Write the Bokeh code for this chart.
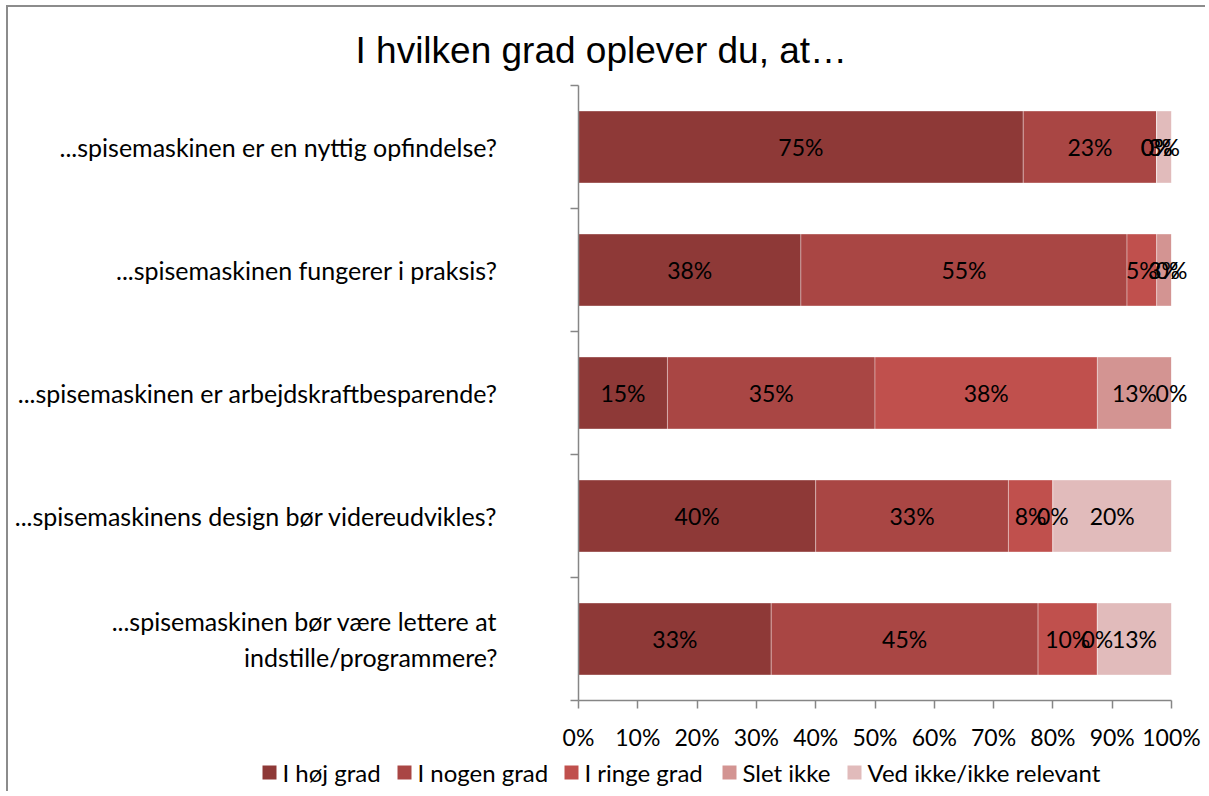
from bokeh.plotting import figure
from bokeh.models import ColumnDataSource, FixedTicker, PrintfTickFormatter, Range1d
from bokeh.core.properties import value
from bokeh.embed import file_html
from bokeh.resources import INLINE

questions = [
    "...spisemaskinen er en nyttig opfindelse?",
    "...spisemaskinen fungerer i praksis?",
    "...spisemaskinen er arbejdskraftbesparende?",
    "...spisemaskinens design bør videreudvikles?",
    "...spisemaskinen bør være lettere at\nindstille/programmere?",
]
series_names = ["I høj grad", "I nogen grad", "I ringe grad", "Slet ikke", "Ved ikke/ikke relevant"]
hoej_grad = [75.0, 37.5, 15.0, 40.0, 32.5]
nogen_grad = [22.5, 55.0, 35.0, 32.5, 45.0]
ringe_grad = [0.0, 5.0, 37.5, 7.5, 10.0]
slet_ikke = [0.0, 2.5, 12.5, 0.0, 0.0]
ved_ikke = [2.5, 0.0, 0.0, 20.0, 12.5]
series_values = [hoej_grad, nogen_grad, ringe_grad, slet_ikke, ved_ikke]
colors = ["#8E3937", "#A94644", "#C0504D", "#D39492", "#E1BBBB"]
x_ticks = [0, 10, 20, 30, 40, 50, 60, 70, 80, 90, 100]

FONT = "Lato"

# layout (pixels)
W, H = 1199, 786
BL, BR, BT, BB = 570, 36, 78, 93
FRAME_W = W - BL - BR
FRAME_H = H - BT - BB
X0, X1 = 0, 100
Y_TOP, Y_BOT = 0, 5

p = figure(
    width=W, height=H,
    x_range=Range1d(X0, X1), y_range=Range1d(Y_BOT, Y_TOP),
    output_backend="svg", toolbar_location=None,
    min_border_left=BL, min_border_right=BR, min_border_top=BT, min_border_bottom=BB,
    title="I hvilken grad oplever du, at\u2026",
)
p.styles = {"margin-left": "6px", "margin-top": "5px",
            "border-left": "2px solid #8c8c8c", "border-top": "2px solid #8c8c8c"}
p.outline_line_color = None
p.xgrid.visible = False
p.ygrid.visible = False

p.title.text_font = "Liberation Sans"
p.title.text_font_size = "37px"
p.title.text_font_style = "normal"
p.title.text_color = "#000000"
p.title.align = "left"
p.title.offset = -223
p.title.standoff = 30

ypos = [i + 0.5 for i in range(len(questions))]
left = [0.0] * len(questions)
for name, vals, col in zip(series_names, series_values, colors):
    right = [l + v for l, v in zip(left, vals)]
    src = ColumnDataSource(dict(
        y=ypos, left=left, right=right,
        xc=[(l + r) / 2 for l, r in zip(left, right)],
        lab=["%d%%" % int(v + 0.5) for v in vals],
    ))
    p.hbar(y="y", left="left", right="right", height=0.585, source=src,
           fill_color=col, line_color="white", line_alpha=0.35, line_width=1)
    p.text(x="xc", y="y", text="lab", source=src, text_align="center", text_baseline="middle",
           text_font=value(FONT), text_font_size="23px", text_color="#000000", level="overlay")
    left = right

# x axis
p.xaxis.ticker = FixedTicker(ticks=x_ticks)
p.xaxis.formatter = PrintfTickFormatter(format="%d%%")
p.xaxis.axis_line_color = "#868686"
p.xaxis.axis_line_width = 1.5
p.xaxis.major_tick_line_color = "#868686"
p.xaxis.major_tick_line_width = 1.5
p.xaxis.major_tick_in = 0
p.xaxis.major_tick_out = 8
p.xaxis.minor_tick_line_color = None
p.xaxis.major_label_text_font = FONT
p.xaxis.major_label_text_font_size = "23px"
p.xaxis.major_label_text_color = "#000000"
p.xaxis.major_label_standoff = 14

# y axis
p.yaxis.ticker = FixedTicker(ticks=ypos, minor_ticks=[0, 1, 2, 3, 4, 5])
p.yaxis.major_label_overrides = {y: q for y, q in zip(ypos, questions)}
p.yaxis.axis_line_color = "#868686"
p.yaxis.axis_line_width = 1.5
p.yaxis.major_tick_line_color = None
p.yaxis.major_tick_in = 0
p.yaxis.major_tick_out = 0
p.yaxis.minor_tick_line_color = "#868686"
p.yaxis.minor_tick_line_width = 1.5
p.yaxis.minor_tick_in = 0
p.yaxis.minor_tick_out = 8
p.yaxis.major_label_text_font = FONT
p.yaxis.major_label_text_font_size = "25px"
p.yaxis.major_label_text_color = "#000000"
p.yaxis.major_label_standoff = 73

# legend row below the axis (drawn unclipped at overlay level)
# key positions in pixels relative to the frame's left edge / bottom edge
legend_key_left_px = [-316, -181, -14, 144, 269]
legend_dy_px = 72
KEY = 14


def px_to_x(px):
    return X0 + px / FRAME_W * (X1 - X0)


def px_to_y(py):
    return Y_BOT + py / FRAME_H * (Y_BOT - Y_TOP)


leg_y = px_to_y(legend_dy_px)
leg_src = ColumnDataSource(dict(
    x=[px_to_x(k + KEY / 2) for k in legend_key_left_px],
    y=[leg_y] * len(series_names),
    name=series_names,
    color=colors,
))
p.rect(x="x", y="y", width=KEY, height=KEY, width_units="screen", height_units="screen",
       fill_color="color", line_color=None, source=leg_src, level="overlay")
p.text(x="x", y="y", text="name", source=leg_src, x_offset=KEY / 2 + 6, text_align="left",
       text_baseline="middle", text_font=value(FONT), text_font_size="24px",
       text_color="#000000", level="overlay")

open("out.html", "w").write(file_html(p, INLINE))
